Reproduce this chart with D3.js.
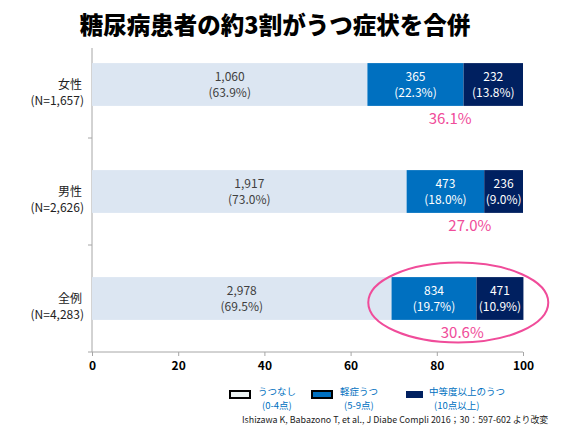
<!DOCTYPE html>
<html lang="ja">
<head>
<meta charset="UTF-8">
<title></title>
<script src="https://cdn.jsdelivr.net/npm/d3@7"></script>
<style>
    body{ margin:0; background:#fff; }
    svg text{ font-family:"Noto Sans CJK JP","Noto Sans",sans-serif; }
    .axis path,.axis line{ stroke:#a6a6a6; }
    .axis text{ font-size:12px; font-weight:bold; fill:#000; }
</style>
</head>
<body>
<svg id="chart" width="576" height="432"></svg>
<script>
var groups = ["女性", "男性", "全例"];
var groupN = ["1,657", "2,626", "4,283"];
var counts = [[1060, 365, 232], [1917, 473, 236], [2978, 834, 471]];
var pcts = [[63.9, 22.3, 13.8], [73.0, 18.0, 9.0], [69.5, 19.7, 10.9]];
var combined = ["36.1%", "27.0%", "30.6%"];
var levels = ["うつなし", "軽症うつ", "中等度以上のうつ"];
var levelSub = ["(0-4点)", "(5-9点)", "(10点以上)"];
var xTicks = [0, 20, 40, 60, 80, 100];

var colors = ["#dce6f2", "#0070c0", "#002060"];
var textColors = ["#404040", "#fff", "#fff"];
var pink = "#f04c9a";

var svg = d3.select("#chart");

svg.append("text")
    .attr("x", 275).attr("y", 34)
    .attr("text-anchor", "middle")
    .style("font-size", "23.5px").style("font-weight", 900)
    .text("糖尿病患者の約3割がうつ症状を合併");

var x = d3.scaleLinear().domain([0, 100]).range([92, 523]);
var y = d3.scaleBand().domain(groups).range([31, 352]).paddingInner(0.6).paddingOuter(0.3);

// axis lines
svg.append("line").attr("x1", 92).attr("x2", 92).attr("y1", 48).attr("y2", 352)
    .attr("stroke", "#a6a6a6");
[138, 245, 352].forEach(function(t){
    svg.append("line").attr("x1", 88).attr("x2", 92).attr("y1", t).attr("y2", t).attr("stroke", "#a6a6a6");
});

var xa = svg.append("g").attr("class", "axis").attr("transform", "translate(0,352)")
    .call(d3.axisBottom(x).tickValues(xTicks).tickSize(4).tickPadding(5));
xa.select(".domain").attr("d", "M92,0H523");

// bars
groups.forEach(function(g, gi){
    var start = 0;
    var row = svg.append("g");
    pcts[gi].forEach(function(p, si){
        var x0 = x(start), x1 = x(start + p);
        row.append("rect")
            .attr("x", x0).attr("y", y(g))
            .attr("width", x1 - x0).attr("height", y.bandwidth())
            .attr("fill", colors[si]);
        var cx = (x0 + x1) / 2, cy = y(g) + y.bandwidth() / 2;
        var t = row.append("text").attr("text-anchor", "middle")
            .attr("fill", textColors[si]).style("font-size", "12px");
        t.append("tspan").attr("x", cx).attr("y", cy - 4).text(d3.format(",")(counts[gi][si]));
        t.append("tspan").attr("x", cx).attr("y", cy + 12).text("(" + p.toFixed(1) + "%)");
        start += p;
    });
    var mid = (x(pcts[gi][0]) + x(100)) / 2 + 5;
    svg.append("text").attr("x", mid).attr("y", y(g) + y.bandwidth() + 18)
        .attr("text-anchor", "middle").attr("fill", pink)
        .style("font-size", "15px").text(combined[gi]);

    var cy = y(g) + y.bandwidth() / 2;
    var lab = svg.append("text").attr("text-anchor", "end").attr("fill", "#222").style("font-size", "12px");
    lab.append("tspan").attr("x", 82).attr("y", cy + 4).text(g);
    lab.append("tspan").attr("x", 84).attr("y", cy + 20).text("(N=" + groupN[gi] + ")");
});

// highlight ellipse around 全例
var ay = y("全例") + y.bandwidth() / 2;
svg.append("ellipse")
    .attr("cx", (x(pcts[2][0]) + x(100)) / 2 + 1).attr("cy", ay + 4)
    .attr("rx", 90).attr("ry", 40)
    .attr("fill", "none").attr("stroke", pink).attr("stroke-width", 2);

// legend
var lx = [230, 312, 406];
levels.forEach(function(l, i){
    svg.append("rect").attr("x", lx[i]).attr("y", 391)
        .attr("width", i == 2 ? 17 : 20).attr("height", 7)
        .attr("fill", i == 0 ? "#eaf1f1" : colors[i])
        .attr("stroke", i == 2 ? "none" : "#000").attr("stroke-width", 2);
    var t = svg.append("text").attr("fill", "#0070c0").style("font-size", "9.5px");
    t.append("tspan").attr("x", lx[i] + (i == 2 ? 23 : 28)).attr("y", 395).text(l);
    t.append("tspan").attr("x", lx[i] + (i == 2 ? 28 : 32)).attr("y", 409).text(levelSub[i]);
});

svg.append("text").attr("x", 242).attr("y", 423).attr("fill", "#222")
    .style("font-size", "8.9px")
    .text("Ishizawa K, Babazono T, et al., J Diabe Compli 2016；30：597-602 より改変");
</script>
</body>
</html>
